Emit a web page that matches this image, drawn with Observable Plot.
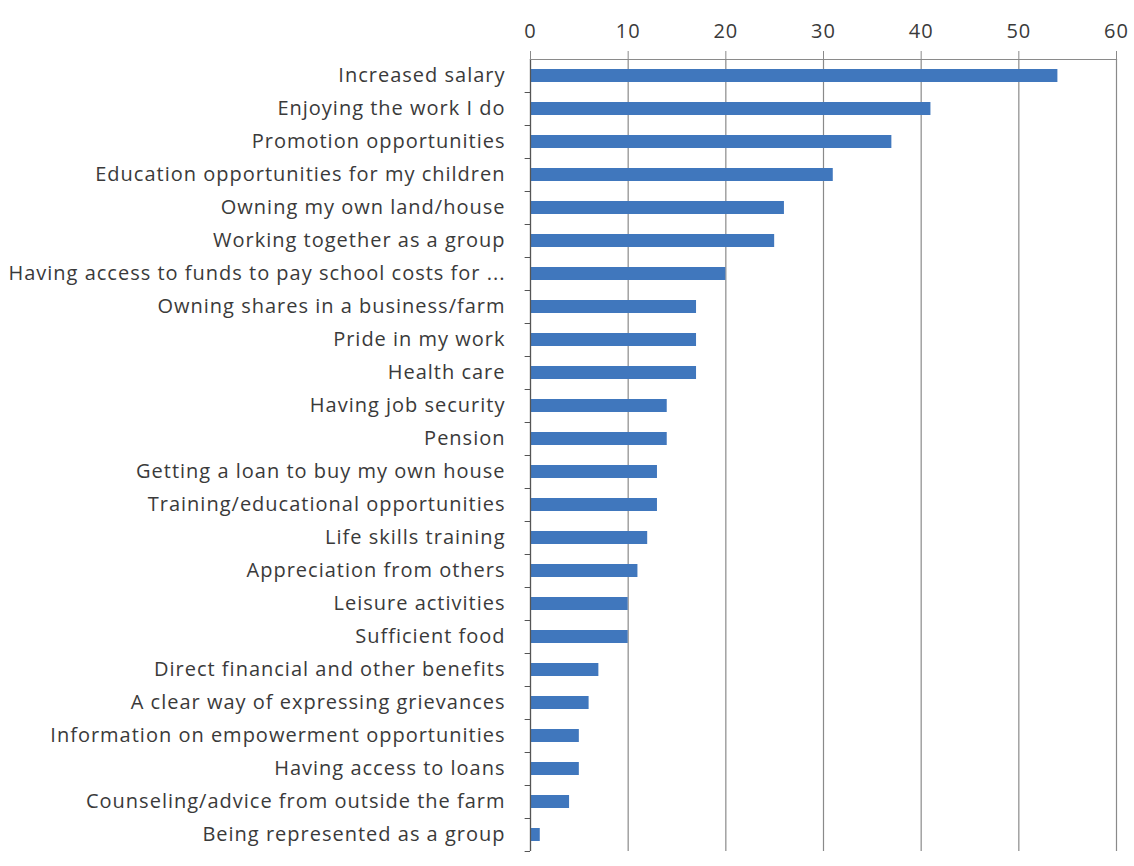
<!DOCTYPE html>
<html>
<head>
<meta charset="utf-8">
<script src="https://cdn.jsdelivr.net/npm/d3@7"></script>
<script src="https://cdn.jsdelivr.net/npm/@observablehq/plot@0.6"></script>
<style>
  html, body { margin: 0; padding: 0; background: #fff; }
  #chart svg { display: block; }
  #chart svg text { letter-spacing: 1px; }
</style>
</head>
<body>
<div id="chart"></div>
<script>
const categories = [
  "Increased salary",
  "Enjoying the work I do",
  "Promotion opportunities",
  "Education opportunities for my children",
  "Owning my own land/house",
  "Working together as a group",
  "Having access to funds to pay school costs for ...",
  "Owning shares in a business/farm",
  "Pride in my work",
  "Health care",
  "Having job security",
  "Pension",
  "Getting a loan to buy my own house",
  "Training/educational opportunities",
  "Life skills training",
  "Appreciation from others",
  "Leisure activities",
  "Sufficient food",
  "Direct financial and other benefits",
  "A clear way of expressing grievances",
  "Information on empowerment opportunities",
  "Having access to loans",
  "Counseling/advice from outside the farm",
  "Being represented as a group"
];
const values = [54, 41, 37, 31, 26, 25, 20, 17, 17, 17, 14, 14, 13, 13, 12, 11, 10, 10, 7, 6, 5, 5, 4, 1];
const xTicks = [0, 10, 20, 30, 40, 50, 60];

const data = categories.map((c, i) => ({label: c, value: values[i]}));

const W = 1134, H = 866;
const mTop = 59, mBottom = 15, mLeft = 530, mRight = 18;
const step = (H - mTop - mBottom) / categories.length;

const chart = Plot.plot({
  width: W,
  height: H,
  marginTop: mTop,
  marginBottom: mBottom,
  marginLeft: mLeft,
  marginRight: mRight,
  style: {fontFamily: "'Open Sans', sans-serif", fontSize: "20px", color: "#3a3a3a", background: "#fff"},
  x: {domain: [0, 60]},
  y: {domain: categories, paddingInner: 0.6, paddingOuter: 0.3, align: 0.5},
  marks: [
    Plot.gridX(xTicks, {stroke: "#8a8a8a", strokeOpacity: 1, strokeWidth: 1.2}),
    Plot.ruleY(categories, {y: d => d, x1: -0.55, x2: 0, dy: step / 2, stroke: "#555", strokeWidth: 1}),
    Plot.barX(data, {x: "value", y: "label", fill: "#4077bd"}),
    Plot.ruleX([0], {stroke: "#555", strokeWidth: 1.2}),
    Plot.frame({anchor: "top", stroke: "#8a8a8a", strokeWidth: 1.2}),
    Plot.axisX(xTicks, {anchor: "top", tickSize: 9, tickPadding: 13, stroke: "#8a8a8a", fill: "#3a3a3a", fontSize: 20, label: null}),
    Plot.axisY({tickSize: 0, tickPadding: 25, fill: "#3a3a3a", fontSize: 20, label: null})
  ]
});
document.getElementById("chart").appendChild(chart);
</script>
</body>
</html>
